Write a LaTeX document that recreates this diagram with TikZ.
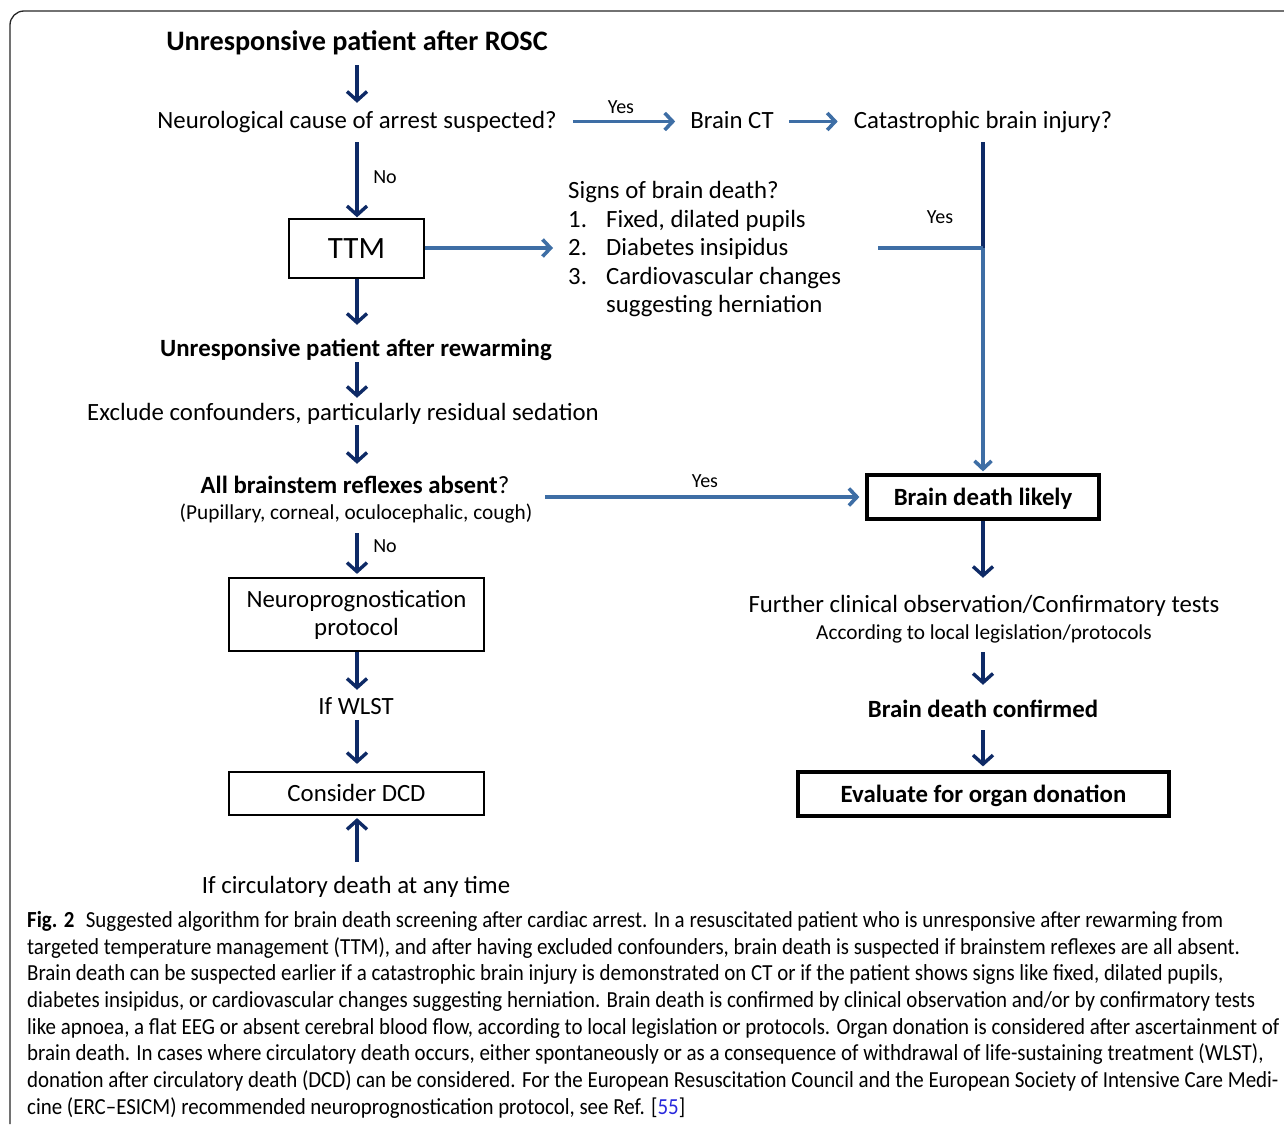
\documentclass[tikz,border=0pt]{standalone}
\usepackage{fontspec}
\setmainfont{Carlito}
\newfontfamily\capfont[FakeStretch=0.91]{Carlito}
\usetikzlibrary{arrows.meta}
\definecolor{navy}{RGB}{14,42,102}
\definecolor{steel}{RGB}{62,110,165}
\definecolor{linkblue}{RGB}{40,40,220}
\tikzset{
  txt/.style={inner sep=0pt, anchor=base, text height=18pt, text depth=5pt, font=\fontsize{24.8}{29}\selectfont},
  btxt/.style={txt, font=\fontsize{24.8}{29}\selectfont\bfseries},
  titletxt/.style={inner sep=0pt, anchor=base, text height=20pt, text depth=6pt, font=\fontsize{28.2}{33}\selectfont\bfseries},
  smalltxt/.style={inner sep=0pt, anchor=base, text height=15pt, text depth=4pt, font=\fontsize{21.3}{25}\selectfont},
  lbl/.style={inner sep=0pt, anchor=base, font=\fontsize{20}{23}\selectfont},
  captxt/.style={inner sep=0pt, anchor=base west, font=\capfont\fontsize{23}{27}\selectfont},
  thinbox/.style={draw=black, line width=1.4pt, inner sep=0pt, font=\fontsize{24.8}{29}\selectfont, align=center},
  thickbox/.style={draw=black, line width=3.2pt, inner sep=0pt, text height=18pt, text depth=2pt, font=\fontsize{24.8}{29}\selectfont\bfseries, align=center},
  navyarrow/.style={draw=navy, line width=3.4pt, -{Straight Barb[length=9pt,width=20pt,line width=3.4pt]}},
  steelarrow/.style={draw=steel, line width=3.6pt, -{Straight Barb[length=8pt,width=17pt,line width=3.6pt]}},
  navyline/.style={draw=navy, line width=3.4pt},
  steelline/.style={draw=steel, line width=3.6pt},
}
\begin{document}
\begin{tikzpicture}[x=1pt,y=-1pt]
\useasboundingbox (0,0) rectangle (1284,1124);
% frame
\draw[line width=1.3pt, draw=black!85, rounded corners=14pt] (10,1124) -- (10,11) -- (1290,11);

\coordinate (colL) at (357,0);
\coordinate (colR) at (983,0);

% left column (y = visual centre + 8)
\node[titletxt] (rosc) at (357,51) {Unresponsive patient after ROSC};
\node[txt] (neuro) at (357,128) {Neurological cause of arrest suspected?};
\node[txt] (ct) at (732,128) {Brain CT};
\node[txt] (cat) at (983,128) {Catastrophic brain injury?};
\node[thinbox, minimum width=135pt, minimum height=59pt, font=\fontsize{31}{36}\selectfont] (ttm) at (356.5,248.5) {TTM};
\node[btxt] (rew) at (356,356) {Unresponsive patient after rewarming};
\node[txt] (excl) at (343,420) {Exclude confounders, particularly residual sedation};
\node[txt] (abs) at (355,493) {\textbf{All brainstem reflexes absent}?};
\node[smalltxt] (pup) at (356,519) {(Pupillary, corneal, oculocephalic, cough)};
\node[thinbox, line width=2.2pt, minimum width=255pt, minimum height=73pt] (np) at (356.5,614.5) {Neuroprognostication\\[-1pt]protocol};
\node[txt] (wlst) at (356,714) {If WLST};
\node[thinbox, line width=2.2pt, minimum width=255pt, minimum height=43pt, text height=18pt, text depth=2pt] (dcd) at (356.5,793.5) {Consider DCD};
\node[txt] (circ) at (356,893) {If circulatory death at any time};

% signs block
\node[txt, anchor=base west] (signs) at (568,198) {Signs of brain death?};
\node[txt, anchor=base west] (s1n) at (568,227) {1.};
\node[txt, anchor=base west] (s1) at (606,227) {Fixed, dilated pupils};
\node[txt, anchor=base west] (s2n) at (568,255) {2.};
\node[txt, anchor=base west] (s2) at (606,255) {Diabetes insipidus};
\node[txt, anchor=base west] (s3n) at (568,284) {3.};
\node[txt, anchor=base west] (s3) at (606,284) {Cardiovascular changes};
\node[txt, anchor=base west] (s3b) at (606,312) {suggesting herniation};
\coordinate (signsout) at (878,248);
\coordinate (join) at (983,248);

% right column
\node[thickbox, minimum width=232pt, minimum height=44pt] (bdl) at (983,497) {Brain death likely};
\node[txt] (fur) at (984,612) {Further clinical observation/Confirmatory tests};
\node[smalltxt] (acc) at (984,639) {According to local legislation/protocols};
\node[btxt] (conf) at (983,717) {Brain death confirmed};
\node[thickbox, minimum width=371pt, minimum height=44pt] (org) at (983.5,794) {Evaluate for organ donation};

% labels
\node[lbl] (yes1) at (621,113) {Yes};
\node[lbl] (no1) at (385,183) {No};
\node[lbl] (yes2) at (940,223) {Yes};
\node[lbl] (yes3) at (705,487) {Yes};
\node[lbl] (no2) at (385,552) {No};

% connectors left column
\draw[navyarrow] ([yshift=-8pt]rosc.south -| colL) -- ([yshift=7pt]neuro.north -| colL);
\draw[navyarrow] ([yshift=-9pt]neuro.south -| colL) -- ([yshift=1pt]ttm.north -| colL);
\draw[navyarrow] (ttm.south -| colL) -- ([yshift=13pt]rew.north -| colL);
\draw[navyarrow] ([yshift=-1pt]rew.south -| colL) -- ([yshift=4pt]excl.north -| colL);
\draw[navyarrow] (excl.south -| colL) -- ([yshift=11pt]abs.north -| colL);
\draw[navyarrow] ([yshift=-10pt]pup.south -| colL) -- ([yshift=3pt]np.north -| colL);
\draw[navyarrow] (np.south -| colL) -- ([yshift=6pt]wlst.north -| colL);
\draw[navyarrow] ([yshift=-1pt]wlst.south -| colL) -- ([yshift=7pt]dcd.north -| colL);
\draw[navyarrow] ([yshift=13pt]circ.north -| colL) -- ([yshift=-2pt]dcd.south -| colL);

% horizontal connectors
\draw[steelarrow] ([xshift=16pt]neuro.east) -- ([xshift=-15pt]ct.west);
\draw[steelarrow] ([xshift=15pt]ct.east) -- ([xshift=-16pt]cat.west);
\draw[steelarrow] (ttm.east |- join) -- ([xshift=-15pt]s2n.west |- join);
\draw[steelarrow] ([xshift=13pt]pup.east |- bdl) -- ([xshift=-6pt]bdl.west);

% right column connectors
\draw[navyline] ([yshift=-9pt]cat.south -| colR) -- (join);
\draw[steelline] (signsout) -- (join);
\draw[steelarrow] (join) -- ([yshift=2pt]bdl.north);
\draw[navyarrow] (bdl.south) -- ([yshift=16pt]fur.north -| colR);
\draw[navyarrow] ([yshift=-9pt]acc.south -| colR) -- ([yshift=14pt]conf.north -| colR);
\draw[navyarrow] ([yshift=-8pt]conf.south -| colR) -- ([yshift=4pt]org.north -| colR);

% caption
\node[captxt] (c1) at (27,927.5) {\textbf{Fig. 2}\enspace Suggested algorithm for brain death screening after cardiac arrest. In a resuscitated patient who is unresponsive after rewarming from};
\node[captxt] (c2) at (27,954) {targeted temperature management (TTM), and after having excluded confounders, brain death is suspected if brainstem reflexes are all absent.};
\node[captxt] (c3) at (27,980.5) {Brain death can be suspected earlier if a catastrophic brain injury is demonstrated on CT or if the patient shows signs like fixed, dilated pupils,};
\node[captxt] (c4) at (27,1007.5) {diabetes insipidus, or cardiovascular changes suggesting herniation. Brain death is confirmed by clinical observation and/or by confirmatory tests};
\node[captxt] (c5) at (27,1034) {like apnoea, a flat EEG or absent cerebral blood flow, according to local legislation or protocols. Organ donation is considered after ascertainment of};
\node[captxt] (c6) at (27,1060.5) {brain death. In cases where circulatory death occurs, either spontaneously or as a consequence of withdrawal of life-sustaining treatment (WLST),};
\node[captxt] (c7) at (27,1087.5) {donation after circulatory death (DCD) can be considered. For the European Resuscitation Council and the European Society of Intensive Care Medi-};
\node[captxt] (c8) at (27,1114) {cine (ERC–ESICM) recommended neuroprognostication protocol, see Ref. [\textcolor{linkblue}{55}]};
\end{tikzpicture}
\end{document}
